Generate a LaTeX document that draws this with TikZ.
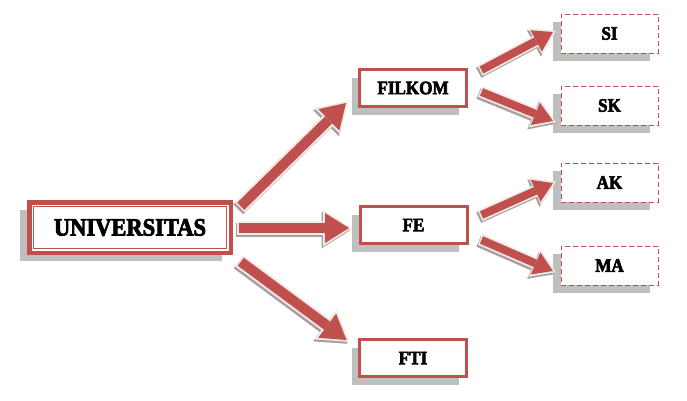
\documentclass[tikz,border=0pt]{standalone}
\usepackage{fontspec}
\newfontfamily\stencil{Liberation Serif}[FakeStretch=0.9,FakeBold=3]
\usetikzlibrary{arrows.meta,shadows}
\definecolor{accred}{RGB}{192,80,77}
\definecolor{shadowgray}{RGB}{191,191,191}
\definecolor{arrowedge}{RGB}{243,233,229}
\definecolor{arrowshadow}{RGB}{168,158,163}
\tikzset{
  boxshadow/.style={drop shadow={shadow xshift=-8pt,shadow yshift=-8pt,fill=shadowgray,opacity=1}},
  mainbox/.style={draw=accred,line width=3pt,fill=white,minimum width=107pt,minimum height=37pt,
    inner sep=0pt,outer sep=0pt,boxshadow,font=\stencil\bfseries\fontsize{19}{20}\selectfont},
  unibox/.style={draw=accred,line width=4.5pt,fill=white,minimum width=201.5pt,minimum height=50.5pt,
    inner sep=0pt,outer sep=0pt,drop shadow={shadow xshift=-9pt,shadow yshift=-8pt,fill=shadowgray,opacity=1},
    font=\stencil\bfseries\fontsize{25}{26}\selectfont},
  subbox/.style={draw=accred,line width=1pt,dash pattern=on 5pt off 3pt,fill=white,minimum width=97pt,
    minimum height=39pt,inner sep=0pt,outer sep=0pt,boxshadow,font=\stencil\bfseries\fontsize{19}{20}\selectfont},
  bigarr/.style={line width=10pt,draw=accred,-{Triangle[length=24pt,width=30pt,line width=0pt]},
    preaction={draw=arrowshadow,line width=14pt,-{Triangle[length=29pt,width=37pt,line width=0pt]},
      shorten >=-3pt,shorten <=-1.5pt,transform canvas={shift={(-1.5pt,-2pt)}}},
    preaction={draw=arrowedge,line width=14pt,-{Triangle[length=29pt,width=37pt,line width=0pt]},
      shorten >=-3pt,shorten <=-1.5pt}},
  smallarr/.style={line width=8pt,draw=accred,-{Triangle[length=19pt,width=24pt,line width=0pt]},
    preaction={draw=arrowshadow,line width=11.5pt,-{Triangle[length=23pt,width=30pt,line width=0pt]},
      shorten >=-3pt,shorten <=-1.5pt,transform canvas={shift={(-1.5pt,-2pt)}}},
    preaction={draw=arrowedge,line width=11.5pt,-{Triangle[length=23pt,width=30pt,line width=0pt]},
      shorten >=-3pt,shorten <=-1.5pt}}
}
\begin{document}
\begin{tikzpicture}[x=1pt,y=-1pt]
\useasboundingbox[fill=white] (0,0) rectangle (687,400);
% main nodes
\node[unibox] (uni) at (130,227.5) {UNIVERSITAS};
\draw[accred,line width=1.2pt] ([shift={(4.6,4.6)}]uni.north west) rectangle ([shift={(-4.6,-4.6)}]uni.south east);
\node[mainbox] (filkom) at (413,88) {FILKOM};
\node[mainbox] (fe) at (413.5,225) {FE};
\node[mainbox] (fti) at (413,358) {FTI};
\node[subbox] (si) at (609.5,33.5) {SI};
\node[subbox] (sk) at (609.5,105.5) {SK};
\node[subbox] (ak) at (609.5,182.5) {AK};
\node[subbox] (ma) at (609.5,265.5) {MA};
% arrows
\draw[bigarr] ([shift={(10,4)}]uni.north east) -- ([shift={(-13.5,-3.5)}]filkom.south west);
\draw[bigarr] ([shift={(8,0.5)}]uni.east) -- ([shift={(-11,3)}]fe.west);
\draw[bigarr] ([shift={(10,9)}]uni.south east) -- ([shift={(-13,-18)}]fti.west);
\draw[smallarr] ([shift={(15,-18)}]filkom.east) -- ([shift={(-8,-1.5)}]si.west);
\draw[smallarr] ([shift={(15,4)}]filkom.east) -- ([shift={(-8,15.5)}]sk.west);
\draw[smallarr] ([shift={(14.5,-10)}]fe.east) -- ([shift={(-8,0.5)}]ak.west);
\draw[smallarr] ([shift={(14.5,15)}]fe.east) -- ([shift={(-8,5.5)}]ma.west);
\end{tikzpicture}
\end{document}
